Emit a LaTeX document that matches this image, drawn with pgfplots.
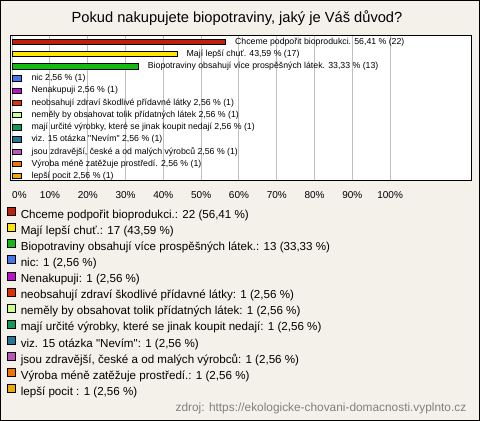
\documentclass[border=0pt]{standalone}
\usepackage{pgfplots}
\pgfplotsset{compat=1.18}
\usepackage{fontspec}
\setmainfont{Liberation Sans}[Ligatures=TeXOff]
\definecolor{bg}{HTML}{F3F1EA}
\definecolor{c1}{HTML}{C0200A}
\definecolor{c2}{HTML}{FFE600}
\definecolor{c3}{HTML}{11BB11}
\definecolor{c4}{HTML}{4477EE}
\definecolor{c5}{HTML}{BB11CC}
\definecolor{c6}{HTML}{DD3300}
\definecolor{c7}{HTML}{CCFF88}
\definecolor{c8}{HTML}{119955}
\definecolor{c9}{HTML}{227799}
\definecolor{c10}{HTML}{BB55BB}
\definecolor{c11}{HTML}{EE7700}
\definecolor{c12}{HTML}{EEAA00}
\definecolor{srcgray}{HTML}{808080}
\pgfplotsset{
  mybar/.style={fill=#1, draw=black, line width=0.6pt,
    legend image code/.code={\draw[fill=#1, draw=black, line width=0.6pt] (0pt,-0.5pt) rectangle (6pt,5.5pt);}},
}
\begin{document}
\begin{tikzpicture}[x=0.75pt,y=0.75pt]
\fill[bg] (0,0) rectangle (480,421);
\draw[black, line width=0.75pt] (0.5,0.5) rectangle (479.5,420.5);
\node at (237,403) {\fontsize{11}{13}\selectfont Pokud nakupujete biopotraviny, jaký je Váš důvod?};
\node[anchor=east, text=srcgray] at (471,13) {\fontsize{8.9}{10}\selectfont zdroj: https://ekologicke-chovani-domacnosti.vyplnto.cz};
\coordinate (A) at (10.5,240);
\begin{axis}[
  at={(A)}, anchor=south west, scale only axis,
  width=345.4pt, height=109.5pt,
  xbar, bar shift=0pt, bar width=4pt,
  xmin=-0.45, xmax=121.4, ymin=-0.575, ymax=11.41, y dir=reverse,
  axis background/.style={fill=white},
  xtick={0,10,20,30,40,50,60,70,80,90,100},
  xticklabels={\makebox[0pt][l]{0\%},10\%,20\%,30\%,40\%,50\%,60\%,70\%,80\%,90\%,100\%},
  ytick=\empty,
  xmajorgrids, grid style={draw=black!25, line width=0.75pt},
  xtick style={draw=none},
  tick label style={font=\fontsize{7.5}{9}\selectfont},
  xticklabel style={yshift=-4.5pt},
  /pgf/number format/assume math mode=true,
  axis line style={line width=0.75pt},
  every node near coord/.append style={anchor=west, font=\fontsize{6.55}{7.5}\selectfont, xshift=6pt, inner sep=1pt, text=black},
  legend style={at={(axis description cs:-0.0076,-0.178)}, anchor=north west, draw=none, fill=none,
    inner sep=0pt, outer sep=0pt, font=\fontsize{8.7}{10}\selectfont,
    row sep=1.8pt, column sep=3.75pt,
    nodes={inner sep=0pt, text height=7pt, text depth=2pt}},
  legend cell align=left,
]
\addplot[mybar=c1, nodes near coords={Chceme podpořit bioprodukci. 56,41 \% (22)}] coordinates {(56.41,0)};
\addlegendentry{Chceme podpořit bioprodukci.: 22 (56,41 \%)}
\addplot[mybar=c2, nodes near coords={Mají lepší chuť. 43,59 \% (17)}] coordinates {(43.59,1)};
\addlegendentry{Mají lepší chuť.: 17 (43,59 \%)}
\addplot[mybar=c3, nodes near coords={Biopotraviny obsahují více prospěšných látek. 33,33 \% (13)}] coordinates {(33.33,2)};
\addlegendentry{Biopotraviny obsahují více prospěšných látek.: 13 (33,33 \%)}
\addplot[mybar=c4, nodes near coords={nic 2,56 \% (1)}] coordinates {(2.56,3)};
\addlegendentry{nic: 1 (2,56 \%)}
\addplot[mybar=c5, nodes near coords={Nenakupuji 2,56 \% (1)}] coordinates {(2.56,4)};
\addlegendentry{Nenakupuji: 1 (2,56 \%)}
\addplot[mybar=c6, nodes near coords={neobsahují zdraví škodlivé přídavné látky 2,56 \% (1)}] coordinates {(2.56,5)};
\addlegendentry{neobsahují zdraví škodlivé přídavné látky: 1 (2,56 \%)}
\addplot[mybar=c7, nodes near coords={neměly by obsahovat tolik přídatných látek 2,56 \% (1)}] coordinates {(2.56,6)};
\addlegendentry{neměly by obsahovat tolik přídatných látek: 1 (2,56 \%)}
\addplot[mybar=c8, nodes near coords={mají určité výrobky, které se jinak koupit nedají 2,56 \% (1)}] coordinates {(2.56,7)};
\addlegendentry{mají určité výrobky, které se jinak koupit nedají: 1 (2,56 \%)}
\addplot[mybar=c9, nodes near coords={viz. 15 otázka "Nevím" 2,56 \% (1)}] coordinates {(2.56,8)};
\addlegendentry{viz. 15 otázka "Nevím": 1 (2,56 \%)}
\addplot[mybar=c10, nodes near coords={jsou zdravější, české a od malých výrobců 2,56 \% (1)}] coordinates {(2.56,9)};
\addlegendentry{jsou zdravější, české a od malých výrobců: 1 (2,56 \%)}
\addplot[mybar=c11, nodes near coords={Výroba méně zatěžuje prostředí. 2,56 \% (1)}] coordinates {(2.56,10)};
\addlegendentry{Výroba méně zatěžuje prostředí.: 1 (2,56 \%)}
\addplot[mybar=c12, nodes near coords={lepší pocit 2,56 \% (1)}] coordinates {(2.56,11)};
\addlegendentry{lepší pocit : 1 (2,56 \%)}
\end{axis}
\end{tikzpicture}
\end{document}
